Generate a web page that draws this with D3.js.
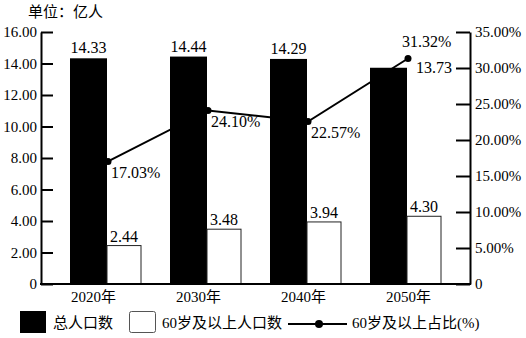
<!DOCTYPE html>
<html>
<head>
<meta charset="utf-8">
<script src="https://cdn.jsdelivr.net/npm/d3@7"></script>
<style>
  html, body { margin: 0; padding: 0; background: #fff; }
  svg { display: block; }
  text { font-family: "Liberation Serif", "Noto Sans CJK SC", serif; fill: #000; }
</style>
</head>
<body>
<svg id="chart" width="526" height="338"></svg>
<script>
// Population projection: total vs. aged 60+, with the 60+ share on the right axis
const years = ["2020年", "2030年", "2040年", "2050年"];
const totalPop = [14.33, 14.44, 14.29, 13.73];     // 亿人
const elderPop = [2.44, 3.48, 3.94, 4.30];         // 亿人
const elderShare = [17.03, 24.10, 22.57, 31.32];   // %
const leftTicks = [0, 2, 4, 6, 8, 10, 12, 16, 14].sort((a, b) => a - b);
const rightTicks = [0, 5, 10, 15, 20, 25, 30, 35];
const legendLabels = ["总人口数", "60岁及以上人口数", "60岁及以上占比(%)"];
const unitLabel = "单位：亿人";

const svg = d3.select("#chart");
const cjk = "'Noto Sans CJK SC', sans-serif";

const plot = { left: 41, right: 470, top: 32, bottom: 284 };

const yL = d3.scaleLinear().domain([0, 16]).range([plot.bottom, plot.top]);
const yR = d3.scaleLinear().domain([0, 35]).range([plot.bottom, plot.top]);

// bar groups
const xBars = d3.scaleBand().domain(years).range([55.5, 455.5])
  .paddingInner(0.29).paddingOuter(0.145);
const blackW = xBars.bandwidth() * 37 / 71;
const whiteW = xBars.bandwidth() - blackW;

// category labels
const xLab = d3.scaleBand().domain(years).range([plot.left, 461]);

// bars: total population
svg.append("g").selectAll("rect").data(years).join("rect")
  .attr("x", d => xBars(d))
  .attr("y", (d, i) => yL(totalPop[i]))
  .attr("width", blackW)
  .attr("height", (d, i) => plot.bottom - yL(totalPop[i]))
  .attr("fill", "#000");

// bars: aged 60+
svg.append("g").selectAll("rect").data(years).join("rect")
  .attr("x", d => xBars(d) + blackW)
  .attr("y", (d, i) => yL(elderPop[i]))
  .attr("width", whiteW)
  .attr("height", (d, i) => plot.bottom - yL(elderPop[i]))
  .attr("fill", "#fff")
  .attr("stroke", "#222")
  .attr("stroke-width", 1);

// axes
const axL = svg.append("g").attr("transform", `translate(${plot.left},0)`)
  .call(d3.axisLeft(yL).tickValues(leftTicks).tickSizeInner(-12).tickSizeOuter(0).tickPadding(4)
    .tickFormat(d => d === 0 ? "0" : d3.format(".2f")(d)));
const axR = svg.append("g").attr("transform", `translate(${plot.right},0)`)
  .call(d3.axisRight(yR).tickValues(rightTicks).tickSizeInner(-14).tickSizeOuter(0).tickPadding(5)
    .tickFormat(d => d === 0 ? "0" : d3.format(".2f")(d) + "%"));
[axL, axR].forEach(ax => {
  ax.select(".domain").attr("stroke", "#000").attr("stroke-width", 2);
  ax.selectAll(".tick line").attr("stroke", "#000").attr("stroke-width", 2);
  ax.selectAll(".tick text").attr("font-size", 15).attr("font-family", null).attr("fill", "#000");
});

svg.append("line")
  .attr("x1", plot.left - 1).attr("x2", plot.right + 1)
  .attr("y1", plot.bottom).attr("y2", plot.bottom)
  .attr("stroke", "#000").attr("stroke-width", 2);

svg.append("g").selectAll("text").data(years).join("text")
  .attr("x", d => xLab(d) + xLab.bandwidth() / 2)
  .attr("y", 302)
  .attr("text-anchor", "middle")
  .attr("font-size", 15)
  .text(d => d);

// share line
const pts = years.map((d, i) => [xBars(d) + blackW + 1, yR(elderShare[i])]);
svg.append("path")
  .attr("d", d3.line()(pts))
  .attr("fill", "none").attr("stroke", "#000").attr("stroke-width", 2);
svg.append("g").selectAll("circle").data(pts).join("circle")
  .attr("cx", d => d[0]).attr("cy", d => d[1]).attr("r", 3.5).attr("fill", "#000");

// value labels; a total label that would sit on the share marker moves beside its bar
const crowded = years.map((d, i) => {
  const top = yL(totalPop[i]);
  return pts[i][1] > top - 20 && pts[i][1] < top + 4;
});

svg.append("g").selectAll("text").data(years).join("text")
  .attr("x", (d, i) => crowded[i] ? xBars(d) + blackW + 9 : xBars(d) + blackW / 2)
  .attr("y", (d, i) => crowded[i] ? yL(totalPop[i]) + 5 : yL(totalPop[i]) - 5)
  .attr("text-anchor", (d, i) => crowded[i] ? "start" : "middle")
  .attr("font-size", 16)
  .text((d, i) => d3.format(".2f")(totalPop[i]));

svg.append("g").selectAll("text").data(years).join("text")
  .attr("x", d => xBars(d) + blackW + whiteW / 2)
  .attr("y", (d, i) => yL(elderPop[i]) - 4)
  .attr("text-anchor", "middle")
  .attr("font-size", 16)
  .text((d, i) => d3.format(".2f")(elderPop[i]));

svg.append("g").selectAll("text").data(years).join("text")
  .attr("x", (d, i) => crowded[i] ? pts[i][0] - 6 : pts[i][0] + 3)
  .attr("y", (d, i) => crowded[i] ? pts[i][1] - 11 : pts[i][1] + 17)
  .attr("font-size", 16)
  .text((d, i) => d3.format(".2f")(elderShare[i]) + "%");

// unit caption
svg.append("text").attr("x", 28).attr("y", 16.5)
  .attr("font-size", 15).style("font-family", cjk).text(unitLabel);

// legend
const lg = svg.append("g");
lg.append("rect").attr("x", 20).attr("y", 311).attr("width", 26).attr("height", 22).attr("fill", "#000");
lg.append("text").attr("x", 53).attr("y", 328).attr("font-size", 15).text(legendLabels[0]);
lg.append("rect").attr("x", 129.5).attr("y", 311.5).attr("width", 26).attr("height", 21).attr("rx", 2)
  .attr("fill", "#fff").attr("stroke", "#555").attr("stroke-width", 1);
lg.append("text").attr("x", 162).attr("y", 328).attr("font-size", 15).text(legendLabels[1]);
lg.append("line").attr("x1", 288).attr("x2", 347).attr("y1", 324).attr("y2", 324)
  .attr("stroke", "#000").attr("stroke-width", 2);
lg.append("circle").attr("cx", 319).attr("cy", 324).attr("r", 4).attr("fill", "#000");
lg.append("text").attr("x", 352).attr("y", 328).attr("font-size", 15).text(legendLabels[2]);
</script>
</body>
</html>
